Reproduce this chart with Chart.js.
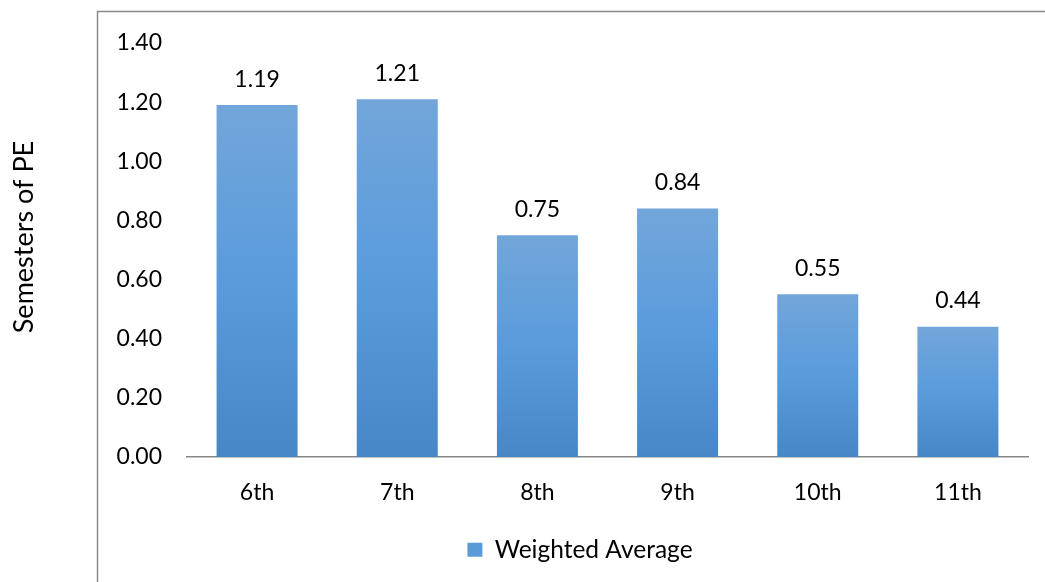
<!DOCTYPE html>
<html>
<head>
<meta charset="utf-8">
<script src="https://cdn.jsdelivr.net/npm/chart.js@4/dist/chart.umd.min.js"></script>
<style>
  html, body { margin: 0; padding: 0; background: #ffffff; }
  #wrap { width: 1045px; height: 582px; position: relative; }
</style>
</head>
<body>
<div id="wrap"><canvas id="chart" width="1045" height="582"></canvas></div>
<script>
// Grade levels and the weighted average semesters of PE taken in each
const grades = ['6th', '7th', '8th', '9th', '10th', '11th'];
const weightedAverage = [1.19, 1.21, 0.75, 0.84, 0.55, 0.44];
const seriesName = 'Weighted Average';
const axisTitle = 'Semesters of PE';

const FONT = 'Lato, "Open Sans", sans-serif';

// Vertical gradient for each bar, lighter at the top, darker at the base
function barFill(ctx) {
  const chart = ctx.chart;
  const yScale = chart.scales && chart.scales.y;
  if (!chart.chartArea || !yScale || ctx.parsed == null) return '#5b9bd5';
  const top = yScale.getPixelForValue(ctx.parsed.y);
  const base = yScale.getPixelForValue(0);
  const g = chart.ctx.createLinearGradient(0, top, 0, base);
  g.addColorStop(0, '#72a6da');
  g.addColorStop(0.5, '#5a9bdc');
  g.addColorStop(1, '#4787c6');
  return g;
}

// Value labels above the bars
const valueLabels = {
  id: 'valueLabels',
  afterDatasetsDraw(chart) {
    const ctx = chart.ctx;
    const meta = chart.getDatasetMeta(0);
    ctx.save();
    ctx.font = '23px ' + FONT;
    ctx.fillStyle = '#000000';
    ctx.textAlign = 'center';
    ctx.textBaseline = 'middle';
    meta.data.forEach((bar, i) => {
      ctx.fillText(weightedAverage[i].toFixed(2), bar.x, bar.y - 26);
    });
    ctx.restore();
  }
};

// Rotated value-axis title, left of the frame
const axisTitlePlugin = {
  id: 'axisTitle',
  afterDraw(chart) {
    const ctx = chart.ctx;
    ctx.save();
    ctx.translate(24, 237);
    ctx.rotate(-Math.PI / 2);
    ctx.font = '27px ' + FONT;
    ctx.fillStyle = '#000000';
    ctx.textAlign = 'center';
    ctx.textBaseline = 'middle';
    ctx.fillText(axisTitle, 0, 0);
    ctx.restore();
  }
};

// Outer frame lines along the top and left of the chart
const frame = {
  id: 'frame',
  afterDraw(chart) {
    const ctx = chart.ctx;
    ctx.save();
    ctx.strokeStyle = '#8a8a8a';
    ctx.lineWidth = 1.5;
    ctx.beginPath();
    ctx.moveTo(97.5, chart.height);
    ctx.lineTo(97.5, 11.5);
    ctx.lineTo(chart.width, 11.5);
    ctx.stroke();
    ctx.restore();
  }
};

// Center the legend within the framed region
const legendShift = {
  id: 'legendShift',
  afterLayout(chart) {
    const lg = chart.legend;
    if (!lg) return;
    const w = lg.right - lg.left;
    const center = 580;
    lg.left = center - w / 2;
    lg.right = center + w / 2;
  }
};

const whiteBg = {
  id: 'whiteBg',
  beforeDraw(chart) {
    const ctx = chart.ctx;
    ctx.save();
    ctx.fillStyle = '#ffffff';
    ctx.fillRect(0, 0, chart.width, chart.height);
    ctx.restore();
  }
};

new Chart(document.getElementById('chart'), {
  type: 'bar',
  data: {
    labels: grades,
    datasets: [{
      label: seriesName,
      data: weightedAverage,
      backgroundColor: barFill,
      borderWidth: 0,
      categoryPercentage: 1.0,
      barPercentage: 0.578
    }]
  },
  options: {
    responsive: false,
    animation: false,
    devicePixelRatio: 1,
    layout: { padding: { top: 43, right: 17, bottom: 10, left: 0 } },
    plugins: {
      legend: {
        position: 'bottom',
        labels: {
          font: { family: FONT, size: 24.5 },
          color: '#000000',
          boxWidth: 15,
          boxHeight: 14,
          padding: 9,
          generateLabels() {
            return [{
              text: seriesName,
              fillStyle: '#5b9bd5',
              strokeStyle: '#5b9bd5',
              lineWidth: 0,
              hidden: false,
              datasetIndex: 0
            }];
          }
        }
      },
      tooltip: { enabled: false },
      title: { display: false }
    },
    scales: {
      x: {
        grid: { display: false, drawTicks: false },
        border: { display: true, color: '#868686', width: 1.5 },
        ticks: {
          font: { family: FONT, size: 23 },
          color: '#000000',
          padding: 22
        }
      },
      y: {
        min: 0,
        max: 1.4,
        grid: { display: false, drawTicks: false },
        border: { display: false },
        ticks: {
          stepSize: 0.2,
          font: { family: FONT, size: 23 },
          color: '#000000',
          padding: 25,
          callback: (v) => Number(v).toFixed(2)
        },
        afterFit(scale) { scale.width = 187; }
      }
    }
  },
  plugins: [whiteBg, legendShift, valueLabels, axisTitlePlugin, frame]
});
</script>
</body>
</html>
